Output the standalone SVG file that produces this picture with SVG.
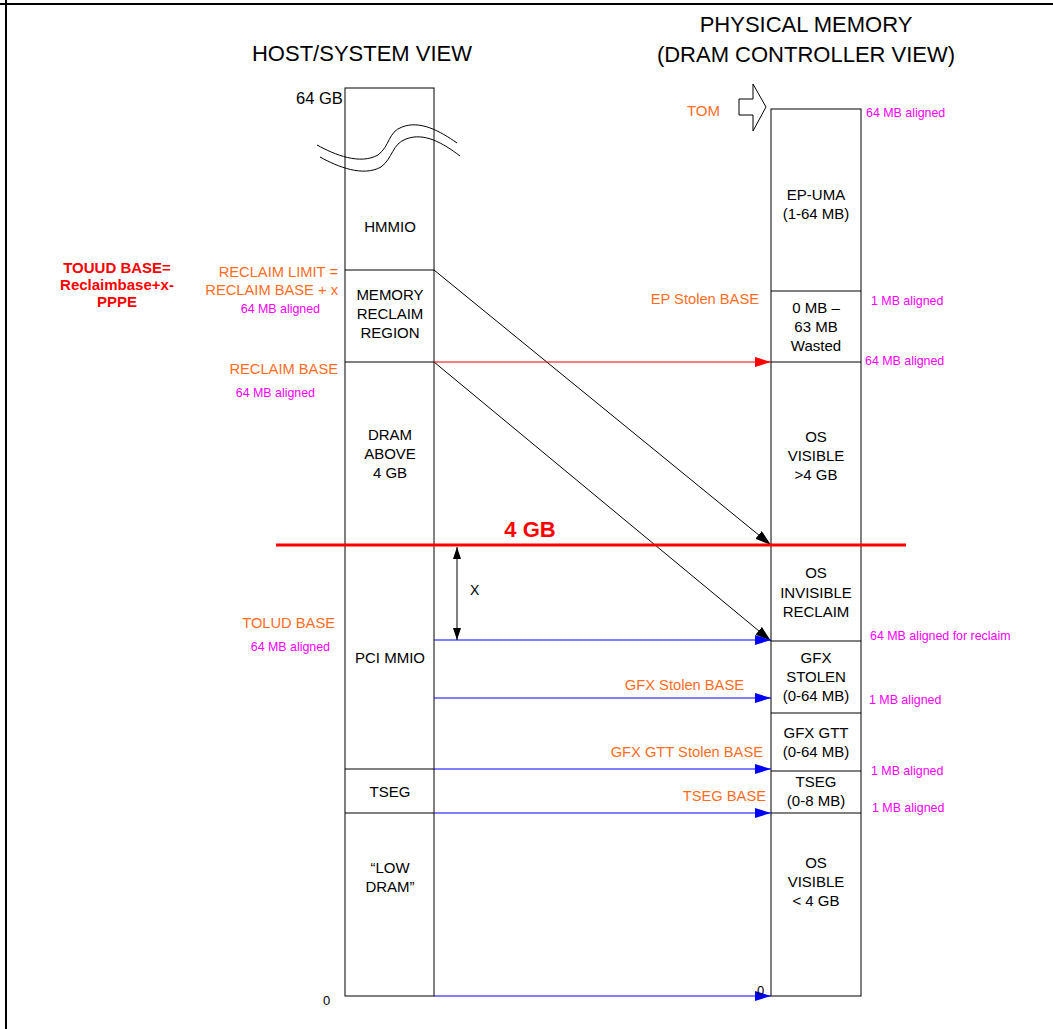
<svg xmlns="http://www.w3.org/2000/svg" width="1053" height="1029" viewBox="0 0 1053 1029">
<style>
text{font-family:"Liberation Sans",Arial,sans-serif}
.t{font-size:22px;fill:#000;text-anchor:middle}
.b{font-size:15px;fill:#000;text-anchor:middle}
.o{font-size:14.7px;fill:#ff6d1f;text-anchor:end}
.m{font-size:12.4px;fill:#ff00ff}
.col{fill:#fff;stroke:#000;stroke-width:1}
.div{stroke:#000;stroke-width:1}
.blk{stroke:#000;stroke-width:1;fill:none}
.blu{stroke:#0000ff;stroke-width:1.2;fill:none}
.red{stroke:#ff0000;stroke-width:1.2;fill:none}
</style>
<defs>
<marker id="ab" markerWidth="16" markerHeight="10" refX="16" refY="5" orient="auto" markerUnits="userSpaceOnUse"><path d="M0,0 L16,5 L0,10 Z" fill="#0000ff"/></marker>
<marker id="ar" markerWidth="16" markerHeight="10" refX="16" refY="5" orient="auto" markerUnits="userSpaceOnUse"><path d="M0,0 L16,5 L0,10 Z" fill="#ff0000"/></marker>
<marker id="ak" markerWidth="16" markerHeight="10" refX="16" refY="5" orient="auto" markerUnits="userSpaceOnUse"><path d="M0,0 L16,5 L0,10 Z" fill="#000"/></marker>
<marker id="ak2" markerWidth="12" markerHeight="8" refX="12" refY="4" orient="auto-start-reverse" markerUnits="userSpaceOnUse"><path d="M0,0 L12,4 L0,8 Z" fill="#000"/></marker>
</defs>
<rect width="1053" height="1029" fill="#fff"/>
<line x1="0" y1="4" x2="1053" y2="4" stroke="#000" stroke-width="2"/>
<line x1="6" y1="0" x2="6" y2="1029" stroke="#000" stroke-width="2"/>

<text class="t" x="362" y="61">HOST/SYSTEM VIEW</text>
<text class="t" x="806" y="32">PHYSICAL MEMORY</text>
<text class="t" x="806" y="62">(DRAM CONTROLLER VIEW)</text>

<g id="host-column">
<rect class="col" x="345" y="88" width="89" height="908"/>
<line class="div" x1="345" y1="270" x2="434" y2="270"/>
<line class="div" x1="345" y1="362" x2="434" y2="362"/>
<line class="div" x1="345" y1="769" x2="434" y2="769"/>
<line class="div" x1="345" y1="813" x2="434" y2="813"/>
<path class="blk" d="M317,145 C335,155 360,165 378,155 C390,146 388,132 402,127 C420,120 440,131 457,143"/>
<path class="blk" d="M320,157 C338,167 363,177 381,167 C393,158 392,144 406,139 C424,132 443,143 460,156"/>
<text x="296" y="104" style="font-size:16.5px">64 GB</text>
<text x="323" y="1005" style="font-size:13px">0</text>
</g>
<g id="hmmio"><text class="b" x="390" y="232">HMMIO</text></g>
<g id="memory-reclaim-region"><text class="b" x="390" y="300">MEMORY</text><text class="b" x="390" y="319">RECLAIM</text><text class="b" x="390" y="338">REGION</text></g>
<g id="dram-above-4gb"><text class="b" x="390" y="440">DRAM</text><text class="b" x="390" y="459">ABOVE</text><text class="b" x="390" y="478">4 GB</text></g>
<g id="pci-mmio"><text class="b" x="390" y="663">PCI MMIO</text></g>
<g id="tseg-host"><text class="b" x="390" y="797">TSEG</text></g>
<g id="low-dram"><text class="b" x="390" y="873">“LOW</text><text class="b" x="390" y="892">DRAM”</text></g>

<g id="phys-column">
<rect class="col" x="771" y="109" width="90" height="887"/>
<line class="div" x1="771" y1="291" x2="861" y2="291"/>
<line class="div" x1="771" y1="362" x2="861" y2="362"/>
<line class="div" x1="771" y1="641" x2="861" y2="641"/>
<line class="div" x1="771" y1="713" x2="861" y2="713"/>
<line class="div" x1="771" y1="771" x2="861" y2="771"/>
<line class="div" x1="771" y1="813" x2="861" y2="813"/>
</g>
<g id="ep-uma"><text class="b" x="816" y="200">EP-UMA</text><text class="b" x="816" y="219">(1-64 MB)</text></g>
<g id="wasted"><text class="b" x="816" y="313">0 MB –</text><text class="b" x="816" y="332">63 MB</text><text class="b" x="816" y="351">Wasted</text></g>
<g id="os-visible-above"><text class="b" x="816" y="442">OS</text><text class="b" x="816" y="461">VISIBLE</text><text class="b" x="816" y="480">&gt;4 GB</text></g>
<g id="os-invisible-reclaim"><text class="b" x="816" y="578">OS</text><text class="b" x="816" y="598">INVISIBLE</text><text class="b" x="816" y="617">RECLAIM</text></g>
<g id="gfx-stolen"><text class="b" x="816" y="663">GFX</text><text class="b" x="816" y="682">STOLEN</text><text class="b" x="816" y="701">(0-64 MB)</text></g>
<g id="gfx-gtt"><text class="b" x="816" y="738">GFX GTT</text><text class="b" x="816" y="757">(0-64 MB)</text></g>
<g id="tseg-phys"><text class="b" x="816" y="787">TSEG</text><text class="b" x="816" y="806">(0-8 MB)</text></g>
<g id="os-visible-below"><text class="b" x="816" y="868">OS</text><text class="b" x="816" y="887">VISIBLE</text><text class="b" x="816" y="906">&lt; 4 GB</text></g>

<g id="tom">
<polygon points="739,99 753,99 753,84 766,107 753,131 753,115 739,115" fill="#fff" stroke="#000" stroke-width="1"/>
<text class="o" x="720" y="116" style="font-size:15px">TOM</text>
</g>

<g id="connectors">
<line class="blk" x1="434" y1="270" x2="771" y2="545" marker-end="url(#ak)"/>
<line class="blk" x1="434" y1="362" x2="771" y2="641" marker-end="url(#ak)"/>
<line class="red" x1="434" y1="362" x2="771" y2="362" marker-end="url(#ar)"/>
<line class="blu" x1="434" y1="640" x2="771" y2="640" marker-end="url(#ab)"/>
<line class="blu" x1="434" y1="698" x2="771" y2="698" marker-end="url(#ab)"/>
<line class="blu" x1="434" y1="769" x2="771" y2="769" marker-end="url(#ab)"/>
<line class="blu" x1="434" y1="813" x2="771" y2="813" marker-end="url(#ab)"/>
<line class="blu" x1="434" y1="996" x2="771" y2="996" marker-end="url(#ab)"/>
<line class="blk" x1="457" y1="547" x2="457" y2="640" marker-start="url(#ak2)" marker-end="url(#ak2)"/>
</g>
<text x="470" y="595" style="font-size:14px">X</text>
<text x="757" y="995" style="font-size:13px">0</text>

<g id="four-gb">
<line x1="276" y1="545" x2="906" y2="545" stroke="#ff0000" stroke-width="3"/>
<text x="530" y="537" style="font-size:22px;font-weight:bold;fill:#ff0000;text-anchor:middle">4 GB</text>
</g>

<g id="left-labels">
<text x="117" y="273" style="font-size:15px;font-weight:bold;fill:#ff0000;text-anchor:middle">TOUUD BASE=</text>
<text x="117" y="290" style="font-size:15px;font-weight:bold;fill:#ff0000;text-anchor:middle">Reclaimbase+x-</text>
<text x="117" y="307" style="font-size:15px;font-weight:bold;fill:#ff0000;text-anchor:middle">PPPE</text>
<text class="o" x="338" y="277">RECLAIM LIMIT =</text>
<text class="o" x="338" y="295">RECLAIM BASE + x</text>
<text class="m" x="320" y="313" text-anchor="end">64 MB aligned</text>
<text class="o" x="338" y="374">RECLAIM BASE</text>
<text class="m" x="315" y="397" text-anchor="end">64 MB aligned</text>
<text class="o" x="335" y="628">TOLUD BASE</text>
<text class="m" x="330" y="651" text-anchor="end">64 MB aligned</text>
</g>
<g id="mid-labels">
<text class="o" x="759" y="304">EP Stolen BASE</text>
<text class="o" x="744" y="690">GFX Stolen BASE</text>
<text class="o" x="763" y="757">GFX GTT Stolen BASE</text>
<text class="o" x="766" y="801">TSEG BASE</text>
</g>
<g id="right-labels">
<text class="m" x="866" y="117">64 MB aligned</text>
<text class="m" x="871" y="305">1 MB aligned</text>
<text class="m" x="865" y="365">64 MB aligned</text>
<text class="m" x="870" y="640">64 MB aligned for reclaim</text>
<text class="m" x="869" y="704">1 MB aligned</text>
<text class="m" x="871" y="775">1 MB aligned</text>
<text class="m" x="872" y="812">1 MB aligned</text>
</g>
</svg>
